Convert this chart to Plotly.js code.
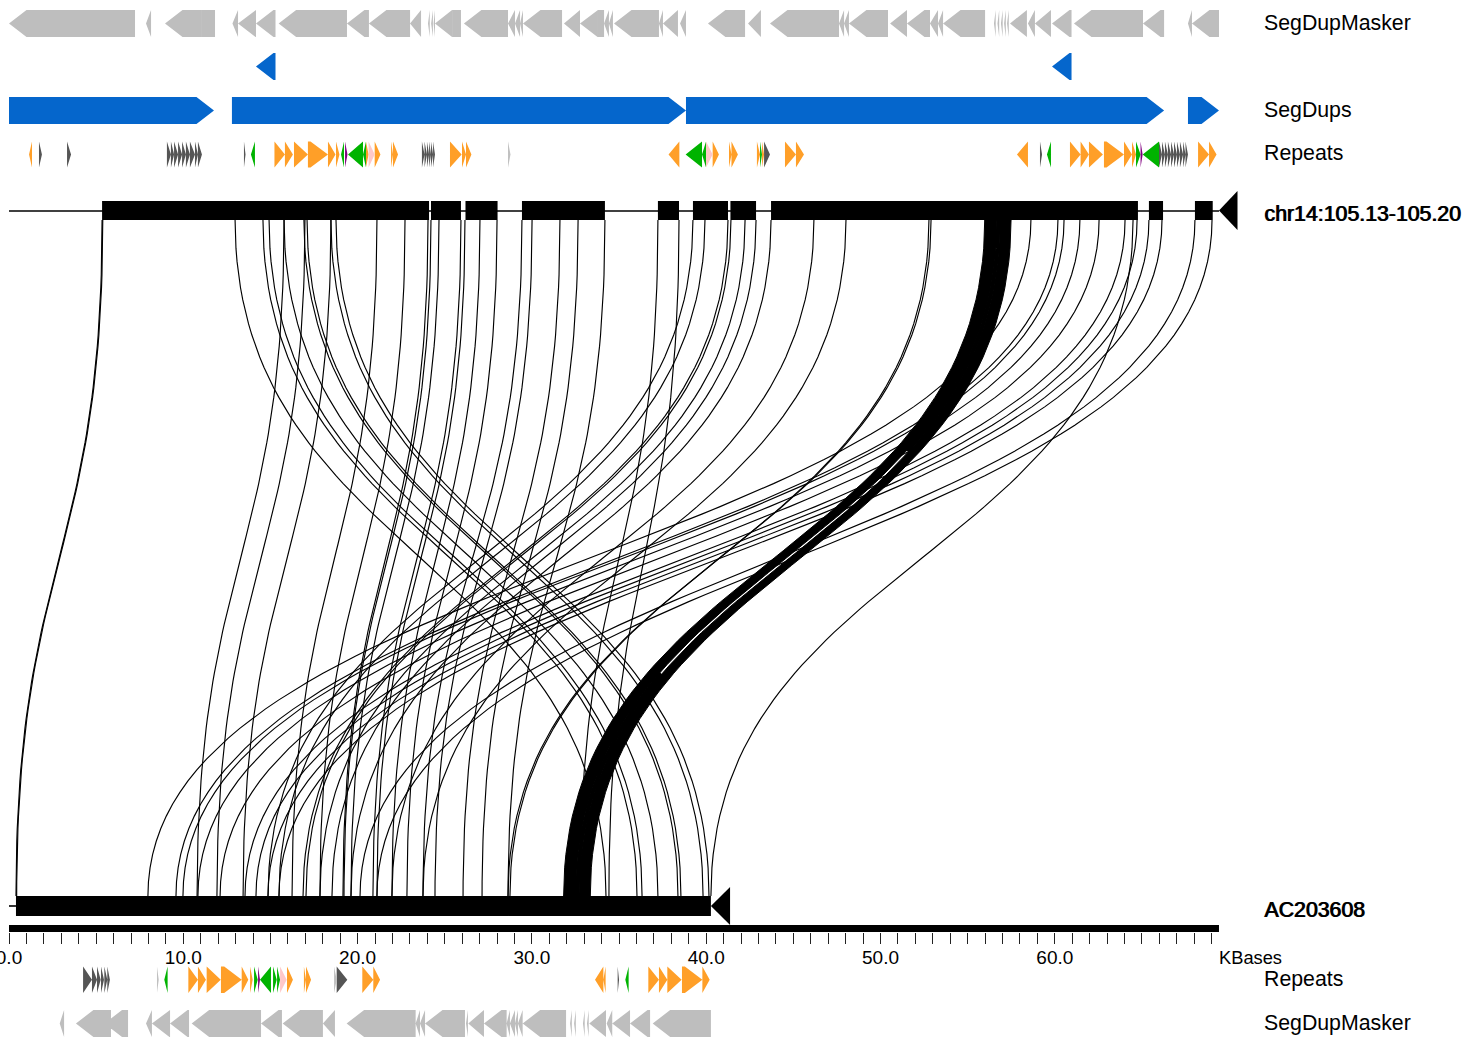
<!DOCTYPE html>
<html><head><meta charset="utf-8">
<script src="https://cdn.plot.ly/plotly-3.0.1.min.js"></script>
<style>html,body{margin:0;padding:0;background:#fff;overflow:hidden}</style>
</head><body><div id="chart" style="width:1465px;height:1041px"></div>
<script>
// ---- genomic data, all coordinates in kilobases ----
const sdmTopStart=[0,7.86,8.95,12.82,13.14,14.17,15.47,19.39,20.65,23.01,24.04,24.22,24.36,24.44,26.10,28.63,29.03,29.32,29.49,31.84,32.76,34.14,34.42,34.71,37.29,37.52,38.50,40.10,42.40,43.66,47.62,47.91,48.19,50.55,51.52,52.84,53.30,53.59,56.51,56.71,56.91,57.09,57.26,57.43,58.46,58.86,59.84,61.1,65.06,67.64,67.87];
const sdmTopEnd=[7.23,8.15,11.07,13.14,14.17,15.29,19.39,20.65,23.01,23.64,24.14,24.32,24.44,25.42,28.63,29.03,29.32,29.49,31.73,32.76,33.79,34.42,34.65,37.29,37.52,38.38,38.84,42.23,43.14,47.62,47.91,48.19,50.43,51.52,52.84,53.30,53.59,56.0,56.61,56.81,57.01,57.19,57.36,58.4,58.86,59.78,60.96,65.06,66.27,67.87,69.42];
const sdmTopBlockStart=[11.07,25.42,33.79];
const sdmTopBlockEnd=[11.82,25.93,34.14];
const sdmBotStart=[2.91,3.84,5.48,7.86,8.2,9.24,10.48,14.46,15.7,18.01,19.37,23.33,23.58,23.87,26.22,26.35,27.25,28.55,28.74,29.03,29.2,29.47,32.19,32.42,32.93,33.16,33.29,34.29,34.61,35.63,36.93];
const sdmBotEnd=[3.16,5.85,6.83,8.2,9.24,10.33,14.46,15.66,18.01,18.7,23.33,23.58,23.87,26.16,26.33,27.25,28.55,28.74,29.03,29.2,29.47,31.96,32.29,32.52,33.03,33.26,34.25,34.61,35.63,36.78,40.27];
const segDupLeftStart=[14.17,59.84];
const segDupLeftEnd=[15.29,60.96];
const segDupRightStart=[0,12.79,38.84,67.64];
const segDupRightEnd=[11.76,38.84,66.27,69.42];

// repeats: class o=orange, k=dark, l=light grey, g=green, p=purple, i=pink; sign gives strand
const repTopStart=[1.15,1.72,3.33,9.06,9.29,9.47,9.7,9.93,10.15,10.38,10.67,10.84,13.48,13.88,15.23,15.83,16.35,17.15,18.3,18.76,19.05,19.28,19.45,20.31,20.48,20.63,20.98,21.92,22.03,23.69,23.84,23.98,24.1,24.21,24.33,25.3,25.99,26.22,28.63,37.84,38.82,39.76,39.99,40.37,41.31,41.45,42.91,43.09,43.2,43.32,44.52,45.15,57.83,59.15,59.55,60.87,61.48,61.96,62.82,63.97,64.43,64.66,64.92,65.04,65.98,66.15,66.32,66.49,66.67,66.84,67.01,67.18,67.36,67.5,68.22,68.85];
const repTopEnd=[1.32,1.89,3.56,9.29,9.47,9.7,9.93,10.15,10.38,10.67,10.84,11.07,13.57,14.11,15.83,16.29,17.15,18.3,18.73,18.96,19.22,19.42,20.31,20.48,20.63,20.98,21.31,22.03,22.32,23.84,23.98,24.1,24.21,24.33,24.44,25.97,26.22,26.53,28.77,38.46,39.76,39.99,40.37,40.73,41.45,41.82,43.09,43.2,43.32,43.66,45.15,45.61,58.46,59.27,59.78,61.48,61.96,62.76,63.97,64.43,64.66,64.92,65.04,65.98,66.15,66.32,66.49,66.67,66.84,67.01,67.18,67.36,67.5,67.64,68.85,69.28];
const repTopClass=['o-','k+','k+','k+','k+','k+','k+','k+','k+','k+','k+','k+','k+','g-','o+','o+','o+','o+','o+','o+','g-','p+','g-','g-','o+','i+','o+','o+','o+','k+','k+','k+','k+','k+','k+','o+','o+','o+','l+','o-','g-','g-','i+','o+','o+','o+','o+','g+','o+','k+','o+','o+','o-','k+','g-','o+','o+','o+','o+','o+','o+','g+','p+','g-','k+','k+','k+','k+','k+','k+','k+','k+','k+','k+','o+','o+'];
const repBotStart=[4.25,4.76,5.05,5.28,5.47,5.64,8.49,8.91,10.29,10.84,11.34,12.16,13.35,13.83,14.06,14.29,14.4,15.15,15.38,15.55,15.95,16.92,17.04,18.65,18.8,20.27,20.9,33.62,34.1,34.92,35.36,36.68,37.29,37.77,38.61,39.78];
const repBotEnd=[4.76,5.05,5.26,5.45,5.64,5.79,8.59,9.1,10.84,11.3,12.15,13.35,13.73,13.98,14.27,14.4,15.03,15.36,15.55,15.93,16.29,17.04,17.33,18.8,19.41,20.9,21.29,34.1,34.23,35.0,35.55,37.29,37.77,38.59,39.78,40.2];
const repBotClass=['k+','k+','k+','k+','k+','k+','l+','g-','o+','o+','o+','o+','o+','o+','g+','p+','g-','g+','g+','i+','o+','o+','o+','l+','k+','o+','o+','o-','o-','k+','g-','o+','o+','o+','o+','o+'];

// aligned blocks on the two sequences
const chrBlockStart=[5.34,22.72,24.21,26.19,29.43,31.61,37.23,39.24,41.39,43.72,65.4,68.04];
const chrBlockEnd=[22.72,24.1,25.93,28.03,31.61,34.19,38.44,41.25,42.86,64.77,66.21,69.06];
const acBlockStart=[0.4,19.16,28.63];
const acBlockEnd=[19.16,28.63,40.27];
const chrLength=69.42, chrTip=70.48, acLength=40.27, acTip=41.37, acLead=0;

// alignments between the sequences: position on chr14 -> position on AC203608
const alignTop=[5.34,5.38,
 12.97,14.57,14.92,15.78,16.92,17.1,18.47,18.76,
 15.78,16.98,18.47,21.11,22.72,24.04,24.21,24.67,25.93,26.16,27.02,28.0,29.43,30.01,31.61,32.65,34.19,
 37.23,38.44,
 39.24,39.93,41.25,41.42,42.23,42.86,43.72,46.18,48.02,52.78,52.9,
 58.63,60.18,60.53,61.44,62.54,64.03,64.49,64.72,65.4,66.15,68.04,69.02];
const alignBot=[0.4,0.44,
 34.25,36.03,36.32,37.23,38.38,38.55,39.82,40.16,
 10.79,11.93,13.43,16.24,17.84,19.16,19.22,19.62,20.88,21.11,21.97,22.83,23.75,24.44,26.05,27.14,28.63,
 32.76,34.42,
 14.86,15.49,16.87,17.04,17.84,18.53,19.62,21.97,23.75,28.74,28.63,
 7.97,9.58,9.98,10.84,12.11,13.54,40.27,14.17,14.86,15.49,20.14,21.11];
// the wide alignment is two abutting pieces; they only separate in the middle of the span
const wideTopStart=[55.98,56.85], wideTopEnd=[56.68,57.49];
const wideBotStart=[31.82,32.70], wideBotEnd=[32.53,33.35];
const wideJoinTop=56.765, wideJoinBot=32.615;

const tickKb=Array.from({length:70},(_,i)=>i);
const majorLabels={0:'0.0',10:'10.0',20:'20.0',30:'30.0',40:'40.0',50:'50.0',60:'60.0'};

// ---- layout constants ----
const W=1465,H=1041,PX=17.43,X0=9;
const GREY='#bebebe',BLUE='#0566cc',BLACK='#000';
const CLASS={o:'#ff9f28',k:'#555555',l:'#c0c0c0',g:'#00b300',p:'#800080',i:'#ffc8c8'};
const Y={sdmT:[10,37],segA:[53,80],segB:[97,124],repT:[141.5,167.5],chr:[201,220],ribT:220,ribB:896,ac:[896,916],repB:[966.5,993],sdmB:[1010,1037]};

function arrowPolys(starts,ends,dirs,band,head){
 const xs=[],ys=[];const[t,b]=band;const m=(t+b)/2;
 starts.forEach((s,i)=>{const e=ends[i],d=dirs(i),h=Math.min(head,e-s);
  if(d<0){xs.push(s,s+h,e,e,s+h,s,null);ys.push(m,t,t,b,b,m,null);}
  else if(d>0){xs.push(s,e-h,e,e-h,s,s,null);ys.push(t,t,m,b,b,t,null);}
  else{xs.push(s,e,e,s,s,null);ys.push(t,t,b,b,t,null);}
 });
 return{xs,ys};
}
function fillTrace(p,color,axis){return{type:'scatter',mode:'lines',x:p.xs,y:p.ys,fill:'toself',fillcolor:color,line:{width:0,color:color},hoverinfo:'skip',xaxis:axis||'x',yaxis:'y'};}
const N=70;
function curve(xa,xb){const xs=[],ys=[];const h=Y.ribB-Y.ribT;
 for(let i=0;i<=N;i++){const t=i/N;const u=1-t;
  xs.push(xa*(u*u*u+3*u*u*t)+xb*(3*u*t*t+t*t*t));
  ys.push(Y.ribT+h*(1.5*t*u+t*t*t));}
 return{xs,ys};}

const HEAD=17.5/PX;
const traces=[];
// SegDupMasker, SegDups
traces.push(fillTrace(arrowPolys(sdmTopStart,sdmTopEnd,()=>-1,Y.sdmT,HEAD),GREY));
traces.push(fillTrace(arrowPolys(sdmTopBlockStart,sdmTopBlockEnd,()=>0,Y.sdmT,HEAD),GREY));
traces.push(fillTrace(arrowPolys(sdmBotStart,sdmBotEnd,()=>-1,Y.sdmB,HEAD),GREY));
traces.push(fillTrace(arrowPolys(segDupLeftStart,segDupLeftEnd,()=>-1,Y.segA,HEAD),BLUE));
traces.push(fillTrace(arrowPolys(segDupRightStart,segDupRightEnd,()=>1,Y.segB,HEAD),BLUE));
// Repeats grouped by class
function addRepeats(st,en,cl,band){Object.keys(CLASS).forEach(k=>{
  const idx=cl.map((c,i)=>c[0]===k?i:-1).filter(i=>i>=0);if(!idx.length)return;
  traces.push(fillTrace(arrowPolys(idx.map(i=>st[i]),idx.map(i=>en[i]),j=>cl[idx[j]][1]==='-'?-1:1,band,HEAD),CLASS[k]));});}
addRepeats(repTopStart,repTopEnd,repTopClass,Y.repT);
addRepeats(repBotStart,repBotEnd,repBotClass,Y.repB);
// alignment curves
const cx=[],cy=[];
alignTop.forEach((a,i)=>{const c=curve(a,alignBot[i]);cx.push(...c.xs,null);cy.push(...c.ys,null);});
traces.push({type:'scatter',mode:'lines',x:cx,y:cy,line:{color:BLACK,width:1.15},hoverinfo:'skip'});
wideTopStart.forEach((_,i)=>{const l=curve(wideTopStart[i],wideBotStart[i]),r=curve(wideTopEnd[i],wideBotEnd[i]);
 traces.push({type:'scatter',mode:'lines',x:[...l.xs,...r.xs.slice().reverse(),l.xs[0]],y:[...l.ys,...r.ys.slice().reverse(),l.ys[0]],fill:'toself',fillcolor:BLACK,line:{width:1,color:BLACK},hoverinfo:'skip'});});
// the two wide pieces join outside the middle of the span
const join=curve(wideJoinTop,wideJoinBot);
const from=Math.round(N*0.31), to=Math.round(N*0.72);
traces.push({type:'scatter',mode:'lines',
 x:[...join.xs.slice(0,from),null,...join.xs.slice(to)],
 y:[...join.ys.slice(0,from),null,...join.ys.slice(to)],
 line:{color:BLACK,width:4},hoverinfo:'skip'});
// sequence backbones and blocks
traces.push({type:'scatter',mode:'lines',x:[0,chrLength],y:[211,211],line:{color:BLACK,width:1.6},hoverinfo:'skip'});
traces.push({type:'scatter',mode:'lines',x:[acLead,acBlockStart[0]],y:[906,906],line:{color:BLACK,width:1.6},hoverinfo:'skip'});
traces.push(fillTrace(arrowPolys(chrBlockStart,chrBlockEnd,()=>0,Y.chr,HEAD),BLACK));
traces.push(fillTrace(arrowPolys(acBlockStart,acBlockEnd,()=>0,Y.ac,HEAD),BLACK));
traces.push(fillTrace(arrowPolys([chrLength],[chrTip],()=>-1,[191,230],2),BLACK));
traces.push(fillTrace(arrowPolys([acLength],[acTip],()=>-1,[887,925],2),BLACK));
// scale bar on the scale axis
traces.push({type:'scatter',mode:'lines',x:[0,chrLength],y:[928.5,928.5],line:{color:BLACK,width:7},hoverinfo:'skip',xaxis:'x2',yaxis:'y'});

const FONT='"Liberation Sans",Arial,sans-serif';
function label(text,xpx,ypx,size,anchor){return{text,xref:'paper',yref:'paper',x:xpx/W,y:1-ypx/H,xanchor:anchor||'left',yanchor:'middle',showarrow:false,font:{family:FONT,size:size,color:'#000'},borderpad:0};}
const LX=1264-1,LS=21.3;
const annotations=[
 label('SegDupMasker',LX,23,LS),label('SegDups',LX,110,LS),label('Repeats',LX,153,LS),
 label('chr14:105.13-105.20',LX,214,LS),label('chr14:105.13-105.20',LX+0.8,214,LS),
 label('AC203608',LX,910,LS),label('AC203608',LX+0.8,910,LS),
 label('Repeats',LX,979,LS),label('SegDupMasker',LX,1023,LS),label('KBases',1218,957,18.3)];

const layout={width:W,height:H,margin:{l:0,r:0,t:0,b:0,pad:0},paper_bgcolor:'#fff',plot_bgcolor:'rgba(0,0,0,0)',showlegend:false,annotations,
 xaxis:{domain:[0,1],range:[-X0/PX,(W-X0)/PX],visible:false,fixedrange:true},
 yaxis:{domain:[0,1],range:[H,0],visible:false,fixedrange:true},
 xaxis2:{domain:[X0/W,(X0+chrLength*PX)/W],range:[0,chrLength],anchor:'free',position:1-932/H,side:'bottom',
  showgrid:false,zeroline:false,showline:false,ticks:'outside',ticklen:11,tickwidth:1,tickcolor:'#222',
  tickmode:'array',tickvals:tickKb,ticktext:tickKb.map(k=>majorLabels[k]||''),tickangle:0,
  ticklabeloverflow:'allow',ticklabelstandoff:-3,
  tickfont:{family:FONT,size:19,color:'#000'},fixedrange:true}
};
Plotly.newPlot('chart',traces,layout,{staticPlot:true,displayModeBar:false});
</script></body></html>
